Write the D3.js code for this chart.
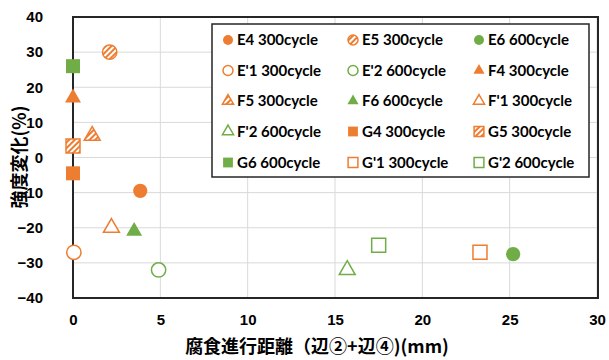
<!DOCTYPE html>
<html>
<head>
<meta charset="utf-8">
<script src="https://cdn.jsdelivr.net/npm/d3@7"></script>
<style>
  body { margin: 0; background: #fff; }
  svg { display: block; }
</style>
</head>
<body>
<svg id="chart" width="609" height="360"></svg>
<script>
// dati
const seriesNames = ['E4 300cycle', 'E5 300cycle', 'E6 600cycle',
  "E'1 300cycle", "E'2 600cycle", 'F4 300cycle',
  'F5 300cycle', 'F6 600cycle', "F'1 300cycle",
  "F'2 600cycle", 'G4 300cycle', 'G5 300cycle',
  'G6 600cycle', "G'1 300cycle", "G'2 600cycle"]
const xValues = [3.85, 2.1, 25.2, 0.05, 4.9, 0, 1.1, 3.5, 2.2, 15.7, 0, 0, 0, 23.3, 17.5]
const yValues = [-9.5, 30, -27.5, -27, -32, 17, 6.2, -21, -20, -32, -4.5, 3.3, 26, -27, -25]
const xTicks = [0, 5, 10, 15, 20, 25, 30]
const yTicks = [-40, -30, -20, -10, 0, 10, 20, 30, 40]

// stili delle serie (forma, colore, riempimento)
const shapes = ['circle', 'circle', 'circle', 'circle', 'circle', 'triangle', 'triangle', 'triangle',
  'triangle', 'triangle', 'square', 'square', 'square', 'square', 'square']
const colorKeys = ['o', 'o', 'g', 'o', 'g', 'o', 'o', 'g', 'o', 'g', 'o', 'o', 'g', 'o', 'g']
const fillKeys = ['solid', 'hatch', 'solid', 'open', 'open', 'solid', 'hatch', 'solid', 'open',
  'open', 'solid', 'hatch', 'solid', 'open', 'open']

const orange = '#ED7D31'
const green = '#70AD47'
const axisColor = '#262626'
const gridColor = '#D9D9D9'

const svg = d3.select('#chart')

const plotLeft = 73, plotRight = 597, plotTop = 17, plotBottom = 298

const xScale = d3.scaleLinear().domain([0, 30]).range([plotLeft, plotRight])
const yScale = d3.scaleLinear().domain([-40, 40]).range([plotBottom, plotTop])

// pattern tratteggiato
const defs = svg.append('defs')
defs.append('pattern')
  .attr('id', 'hatch')
  .attr('patternUnits', 'userSpaceOnUse')
  .attr('width', 4)
  .attr('height', 4)
  .attr('patternTransform', 'rotate(45)')
  .call(p => {
    p.append('rect').attr('width', 4).attr('height', 4).attr('fill', '#fff')
    p.append('rect').attr('width', 2).attr('height', 4).attr('fill', orange)
  })

// griglia
svg.append('g')
  .selectAll('line')
  .data(yTicks)
  .join('line')
  .attr('x1', plotLeft).attr('x2', plotRight)
  .attr('y1', d => yScale(d)).attr('y2', d => yScale(d))
  .attr('stroke', gridColor).attr('stroke-width', 1)

svg.append('g')
  .selectAll('line')
  .data(xTicks)
  .join('line')
  .attr('y1', plotTop).attr('y2', plotBottom)
  .attr('x1', d => xScale(d)).attr('x2', d => xScale(d))
  .attr('stroke', gridColor).attr('stroke-width', 1)

// bordo area del grafico
svg.append('rect')
  .attr('x', plotLeft).attr('y', plotTop)
  .attr('width', plotRight + 1 - plotLeft).attr('height', plotBottom - plotTop)
  .attr('fill', 'none')
  .attr('stroke', axisColor)
  .attr('stroke-width', 2)

// assi
svg.append('g')
  .attr('transform', `translate(0, ${plotBottom})`)
  .call(d3.axisBottom(xScale).tickValues(xTicks).tickSize(0).tickPadding(16))
svg.append('g')
  .attr('transform', `translate(${plotLeft}, 0)`)
  .call(d3.axisLeft(yScale).tickValues(yTicks).tickSize(0).tickPadding(30))

svg.selectAll('path.domain').remove()
svg.selectAll('.tick text')
  .style('font-family', '"Liberation Sans", Arial, sans-serif')
  .style('font-weight', 'bold')
  .style('font-size', '15px')
  .attr('fill', '#000')

// titoli degli assi
svg.append('text')
  .attr('x', 317)
  .attr('y', 353)
  .attr('text-anchor', 'middle')
  .style('font-family', '"Noto Sans CJK JP", sans-serif')
  .style('font-weight', 'bold')
  .style('font-size', '18px')
  .text('腐食進行距離（辺②+辺④)(mm)')

svg.append('text')
  .attr('transform', 'translate(26, 157) rotate(-90)')
  .attr('text-anchor', 'middle')
  .style('font-family', '"Noto Sans CJK JP", sans-serif')
  .style('font-weight', 'bold')
  .style('font-size', '18px')
  .text('強度変化(%)')

// simboli
const symbolType = { circle: d3.symbolCircle, triangle: d3.symbolTriangle, square: d3.symbolSquare }
const symbolSize = { circle: 160, triangle: 110, square: 196 }
const colorOf = i => colorKeys[i] === 'o' ? orange : green

function drawMarker(g, i, scale) {
  const path = d3.symbol().type(symbolType[shapes[i]]).size(symbolSize[shapes[i]] * scale * scale)()
  const c = colorOf(i)
  const m = g.append('path').attr('d', path)
  if (fillKeys[i] === 'solid') {
    m.attr('fill', c)
  } else if (fillKeys[i] === 'hatch') {
    m.attr('fill', 'url(#hatch)').attr('stroke', c).attr('stroke-width', 1.5)
  } else {
    m.attr('fill', '#fff').attr('stroke', c).attr('stroke-width', 1.5)
  }
}

const idx = d3.range(seriesNames.length)
svg.append('g')
  .selectAll('g')
  .data(idx)
  .join('g')
  .attr('transform', i => `translate(${xScale(xValues[i])}, ${yScale(yValues[i])})`)
  .each(function(i) { drawMarker(d3.select(this), i, 1) })

// legenda
const legend = svg.append('g')
legend.append('rect')
  .attr('x', 212).attr('y', 24)
  .attr('width', 377).attr('height', 153)
  .attr('fill', '#fff')
  .attr('stroke', axisColor)
  .attr('stroke-width', 1.5)

const colX = [228, 353, 479]
const rowY = [40, 70.5, 101, 131.5, 162.5]
const items = legend.selectAll('g.item')
  .data(idx)
  .join('g')
  .attr('class', 'item')
  .attr('transform', i => `translate(${colX[i % 3]}, ${rowY[Math.floor(i / 3)]})`)

items.each(function(i) { drawMarker(d3.select(this), i, 0.7) })
items.append('text')
  .attr('x', 9)
  .attr('dy', '0.35em')
  .style('font-family', 'Lato, "Open Sans", sans-serif')
  .style('font-weight', 'bold')
  .style('font-size', '15px')
  .text(i => seriesNames[i])
</script>
</body>
</html>
